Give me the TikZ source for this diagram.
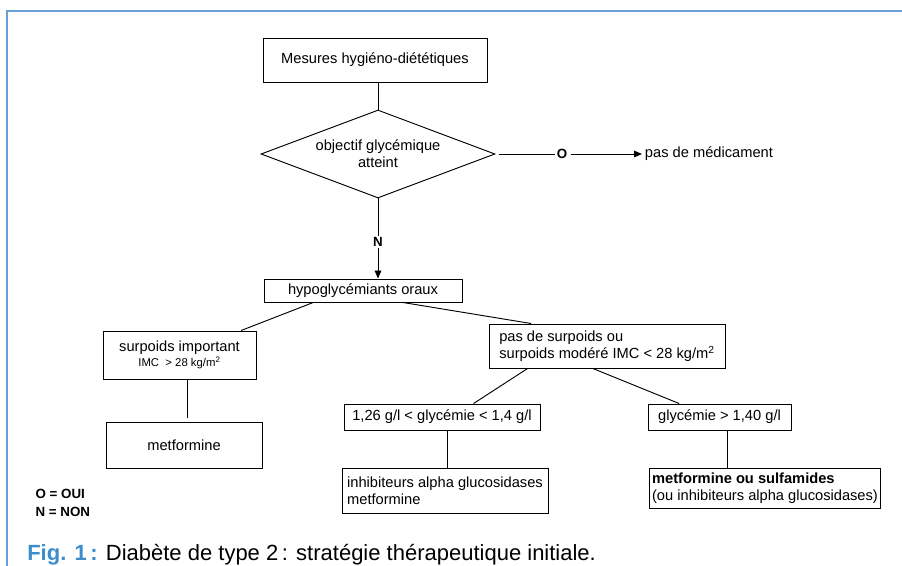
\documentclass[tikz,border=0pt]{standalone}
\usepackage{fontspec}
\setmainfont{Liberation Sans}
\usetikzlibrary{shapes.geometric, arrows.meta, positioning, calc}
\definecolor{figblue}{HTML}{3C8DCB}
\definecolor{frameblue}{HTML}{6A9FD8}

\begin{document}
\begin{tikzpicture}[x=0.75pt, y=-0.75pt,
    box/.style={draw, line width=0.7pt, inner sep=2pt, align=center,
      font=\fontsize{11}{13}\selectfont},
    decision/.style={draw, diamond, line width=0.7pt, inner sep=0pt, aspect=2.66,
      align=center, font=\fontsize{11}{13}\selectfont},
    lbl/.style={inner sep=1pt, font=\fontsize{10}{12}\selectfont\bfseries},
    conn/.style={line width=0.7pt},
    arr/.style={conn, -{Triangle[length=6pt, width=5pt]}}]
  \useasboundingbox (0,0) rectangle (902,566);

  % Frame
  \draw[frameblue, line width=1.2pt] (7,566) -- (7,11) -- (902,11);

  % Top of the chart
  \node[box, minimum width=168pt, minimum height=33pt] (mhd) at (375,60) {Mesures hygiéno-diététiques};
  \node[decision, minimum width=175.5pt, minimum height=66pt] (goal) at (378,154) {objectif glycémique\\atteint};
  \node[lbl] (yes) at (562,154) {O};
  \node[anchor=west, inner sep=2pt, font=\fontsize{11}{13}\selectfont] (nomed) at (642,154) {pas de médicament};
  \node[lbl] (no) at (378,242) {N};
  \node[box, minimum width=148.5pt, minimum height=17.25pt, inner sep=1pt] (hgo) at (363,290.5) {hypoglycémiants oraux};

  % Weight branches
  \node[box, minimum width=114.75pt, minimum height=36pt] (heavy) at (179.5,355)
    {surpoids important\\[-2pt]{\fontsize{8.5}{10}\selectfont IMC\ \ > 28 kg/m\textsuperscript{2}}};
  \node[box, align=left, minimum width=177pt, minimum height=33pt] (light) at (607,346)
    {pas de surpoids ou\\surpoids modéré IMC < 28 kg/m\textsuperscript{2}};

  % Treatments
  \node[box, minimum width=117pt, minimum height=34.5pt] (metf) at (184,445) {metformine};
  \node[box, minimum width=147pt, minimum height=19.5pt] (mid) at (442,417) {1,26 g/l < glycémie < 1,4 g/l};
  \node[box, minimum width=107.25pt, minimum height=19.5pt] (high) at (719.5,417) {glycémie > 1,40 g/l};
  \node[box, align=left, minimum width=154.5pt, minimum height=33.75pt] (inhib) at (445,490.5)
    {inhibiteurs alpha glucosidases\\metformine};
  \node[box, align=left, minimum width=172.5pt, minimum height=30pt] (sulf) at (765,488)
    {\textbf{metformine ou sulfamides}\\(ou inhibiteurs alpha glucosidases)};

  % Connectors
  \draw[conn] (goal.north |- mhd.south) -- (goal.north);
  \draw[conn, shorten <=3pt] (goal.east) -- (yes.west);
  \draw[arr, shorten <=2pt] (yes.east) -- (nomed.west);
  \draw[conn] (goal.south) -- (no.north);
  \draw[arr] (no.south) -- (no.south |- hgo.north);
  \draw[conn] ($(hgo.south west)!.25!(hgo.south east)$) -- ($(heavy.north west)!.9!(heavy.north east)$);
  \draw[conn] ($(hgo.south west)!.7!(hgo.south east)$) -- ($(light.north west)!.18!(light.north east)$);
  \draw[conn, shorten >=3pt] ([xshift=5.6pt]heavy.south) -- ([xshift=5.6pt]heavy.south |- metf.north);
  \draw[conn] ($(light.south west)!.165!(light.south east)$) -- ($(mid.north west)!.66!(mid.north east)$);
  \draw[conn] ($(light.south west)!.44!(light.south east)$) -- ($(high.north west)!.22!(high.north east)$);
  \draw[conn] ([xshift=3.75pt]mid.south) -- ([xshift=3.75pt]mid.south |- inhib.north);
  \draw[conn] ([xshift=5.6pt]high.south) -- ([xshift=5.6pt]high.south |- sulf.north);

  % Legend and caption
  \node[lbl, anchor=west, align=left, font=\fontsize{10}{14}\selectfont\bfseries] (legend) at (34,503) {O = OUI\\N = NON};
  \node[anchor=base west, inner sep=0pt, font=\fontsize{16.5}{18}\selectfont] (caption) at (27,560)
    {\textcolor{figblue}{\textbf{Fig. 1\,:}} Diabète de type 2\,: stratégie thérapeutique initiale.};
\end{tikzpicture}
\end{document}
